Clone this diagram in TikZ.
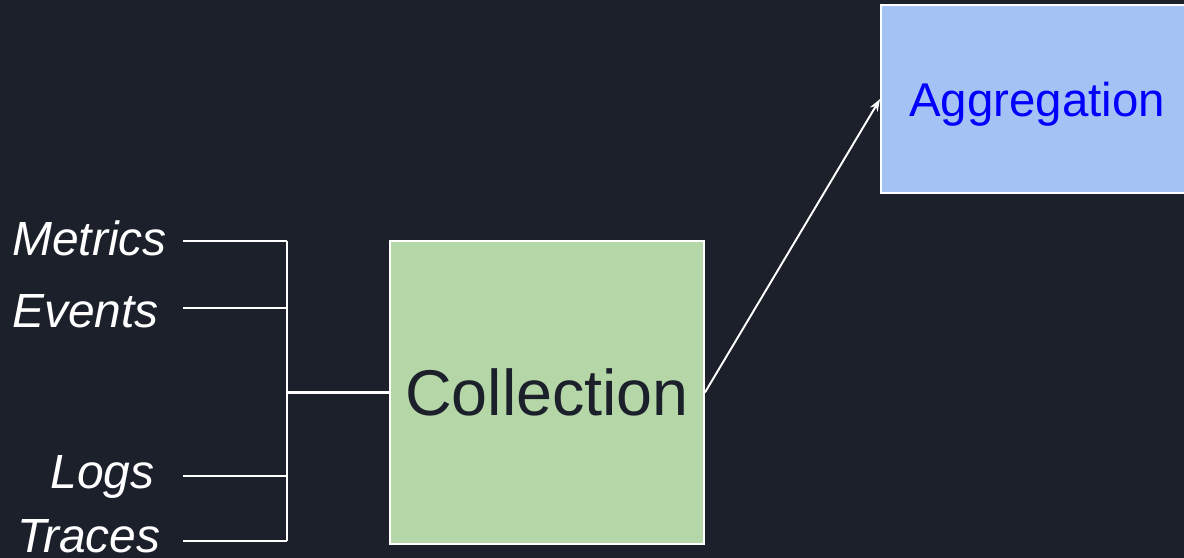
\documentclass[tikz,border=0pt]{standalone}
\usepackage{fontspec}
\setmainfont{Liberation Sans}
\usetikzlibrary{arrows.meta}

\definecolor{bgdark}{HTML}{1C202B}
\definecolor{collgreen}{HTML}{B5D7A8}
\definecolor{aggblue}{HTML}{A4C2F4}
\definecolor{aggtext}{HTML}{0000FF}

\begin{document}
\begin{tikzpicture}
		% one unit is one pixel of the picture
		[x=0.02cm, y=-0.02cm,
		wire/.style={white, line width=1.1pt},
		feed/.style={white, line width=1.7pt},
		box/.style={draw=white, line width=1.1pt, inner sep=0pt},
		lbl/.style={white, inner sep=0pt, anchor=base west,
			font=\fontsize{27.3}{32}\selectfont\itshape}]
	
		% Background and page size
		\useasboundingbox (0,0) rectangle (1184,558);
		\fill[bgdark] (0,0) rectangle (1184,558);
		
		% The two boxes
		\node[box, fill=collgreen, minimum width=6.28cm, minimum height=6.06cm,
			text=bgdark, font=\fontsize{36.8}{44}\selectfont] (collection) at (547,392.5) {Collection};
		\node[box, fill=aggblue, minimum width=6.24cm, minimum height=3.76cm, text depth=0pt,
			text=aggtext, font=\fontsize{27}{32}\selectfont] (aggregation) at (1037,99) {Aggregation};
		
		% The four inputs
		\node[lbl] (metrics) at (12,255) {Metrics};
		\node[lbl] (events) at (12,327) {Events};
		\node[lbl] (logs) at (50,488) {Logs};
		\node[lbl] (traces) at (17,552) {Traces};
		
		% Start and end points of the input lines
		\coordinate (m0) at (183,241);
		\coordinate (e0) at (183,308);
		\coordinate (l0) at (183,476);
		\coordinate (t0) at (183,541);
		\coordinate (m1) at (287,241);
		\coordinate (e1) at (287,308);
		\coordinate (l1) at (287,476);
		\coordinate (t1) at (287,541);
		\coordinate (bus) at (287,392.5);
		
		\draw[wire] (m0) -- (m1);
		\draw[wire] (e0) -- (e1);
		\draw[wire] (l0) -- (l1);
		\draw[wire] (t0) -- (t1);
		\draw[wire] (m1) -- (t1);
		\draw[feed] (bus) -- (collection.west);
		
		% Collection goes on to aggregation
		\draw[wire, -{Stealth[length=7pt, width=5pt]}] (collection.east) -- (aggregation.west);
	\end{tikzpicture}
\end{document}
